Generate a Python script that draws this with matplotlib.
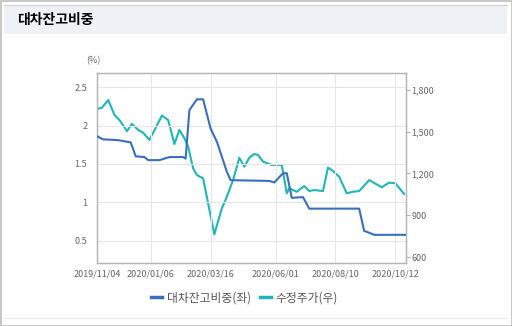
import matplotlib.pyplot as plt
from matplotlib.patches import Rectangle
from matplotlib.lines import Line2D
from matplotlib.ticker import FuncFormatter

plt.rcParams['font.family'] = ['Noto Sans CJK KR', 'DejaVu Sans']

# x = trading-day index from 2019/11/04
tick_idx = [0, 43, 91, 143, 191, 239]
tick_labels = ['2019/11/04', '2020/01/06', '2020/03/16', '2020/06/01', '2020/08/10', '2020/10/12']

# 대차잔고비중 (left axis, %)
ratio_x = [0, 5, 17, 27, 31, 38, 41, 50, 58, 69, 71, 74, 80, 85, 91, 96, 104, 107,
           138, 142, 149, 152, 156, 165, 170, 210, 214, 216, 222, 247]
ratio_y = [1.86, 1.82, 1.81, 1.78, 1.60, 1.59, 1.55, 1.55, 1.59, 1.59, 1.57, 2.20, 2.34, 2.34,
           1.96, 1.79, 1.40, 1.29, 1.28, 1.26, 1.38, 1.38, 1.06, 1.07, 0.92, 0.92, 0.63, 0.62,
           0.58, 0.58]

# 수정주가 (right axis)
price_x = [0, 4, 9, 14, 18, 24, 28, 33, 37, 42, 52, 57, 62, 66, 70, 73, 77, 80, 85, 94,
           100, 103, 109, 114, 118, 122, 126, 129, 133, 140, 148, 152, 154, 157, 160, 166,
           170, 174, 181, 185, 188, 194, 200, 205, 210, 218, 228, 234, 239, 246]
price_y = [1663, 1673, 1728, 1620, 1584, 1505, 1556, 1513, 1493, 1441, 1616, 1584, 1412,
           1513, 1453, 1393, 1237, 1189, 1165, 763, 950, 1010, 1153, 1313, 1249, 1313, 1340,
           1333, 1285, 1261, 1261, 1058, 1094, 1081, 1069, 1110, 1074, 1081, 1074, 1242,
           1225, 1177, 1058, 1069, 1074, 1153, 1101, 1134, 1130, 1053]

blue = '#3a6fbf'
teal = '#1fb5b9'
grey_txt = '#666666'

fig = plt.figure(figsize=(5.12, 3.26), dpi=100)

# frame and header band
fig.patches.append(Rectangle((0.5 / 512, 0.5 / 326), 511 / 512, 325 / 326, transform=fig.transFigure,
                             fill=False, edgecolor='#bdbdbd', linewidth=1.2))
fig.patches.append(Rectangle((4 / 512, 1 - 34 / 326), 503 / 512, 29 / 326, transform=fig.transFigure,
                             facecolor='#eef1f6', edgecolor='none'))
fig.lines.append(Line2D([4 / 512, 507 / 512], [1 - 5 / 326, 1 - 5 / 326], transform=fig.transFigure,
                        color='#d0d0d0', linewidth=0.8))
fig.lines.append(Line2D([4 / 512, 507 / 512], [1 - 318 / 326, 1 - 318 / 326], transform=fig.transFigure,
                        color='#e8e8e8', linewidth=0.8))
fig.text(17 / 512, 1 - 20 / 326, '대차잔고비중', fontsize=10, fontweight='bold', va='center', ha='left')

ax = fig.add_axes([97 / 512, 1 - 263 / 326, 309 / 512, 190 / 326])
ax2 = ax.twinx()

ax.plot(ratio_x, ratio_y, color=blue, linewidth=1.5, zorder=3)
ax2.plot(price_x, price_y, color=teal, linewidth=1.5, zorder=3)
ax.set_zorder(ax2.get_zorder() + 1)
ax.patch.set_visible(False)

ax.set_xlim(0, 247.5)
ax.set_ylim(0.214, 2.682)
ax2.set_ylim(557, 1922)

ax.set_xticks(tick_idx)
ax.set_xticklabels(tick_labels)
ax.set_yticks([0.5, 1, 1.5, 2, 2.5])
ax.set_yticklabels(['0.5', '1', '1.5', '2', '2.5'])
ax2.set_yticks([600, 900, 1200, 1500, 1800])
ax2.yaxis.set_major_formatter(FuncFormatter(lambda v, p: f'{int(v):,}'))

ax.grid(True, color='#e6e6e6', linewidth=0.8)
ax.set_axisbelow(True)
ax.tick_params(axis='both', length=0, labelsize=6.5, labelcolor=grey_txt, pad=5)
ax.tick_params(axis='y', pad=7)
ax2.tick_params(axis='y', length=3, color='#b0b0b0', labelsize=6.5, labelcolor=grey_txt, pad=1)

for a in (ax, ax2):
    for s in a.spines.values():
        s.set_color('#b5b5b5')
        s.set_linewidth(0.9)

fig.text(93 / 512, 1 - 61 / 326, '(%)', fontsize=6.5, color=grey_txt, ha='center', va='center')

handles = [Line2D([], [], color=blue, linewidth=2.5), Line2D([], [], color=teal, linewidth=2.5)]
fig.legend(handles, ['대차잔고비중(좌)', '수정주가(우)'], loc='center', bbox_to_anchor=(0.478, 1 - 298 / 326),
           ncol=2, frameon=False, fontsize=8.5, handlelength=0.9, handletextpad=0.4, columnspacing=0.8,
           labelcolor='#555555')

fig.savefig('out.png', dpi=100)
